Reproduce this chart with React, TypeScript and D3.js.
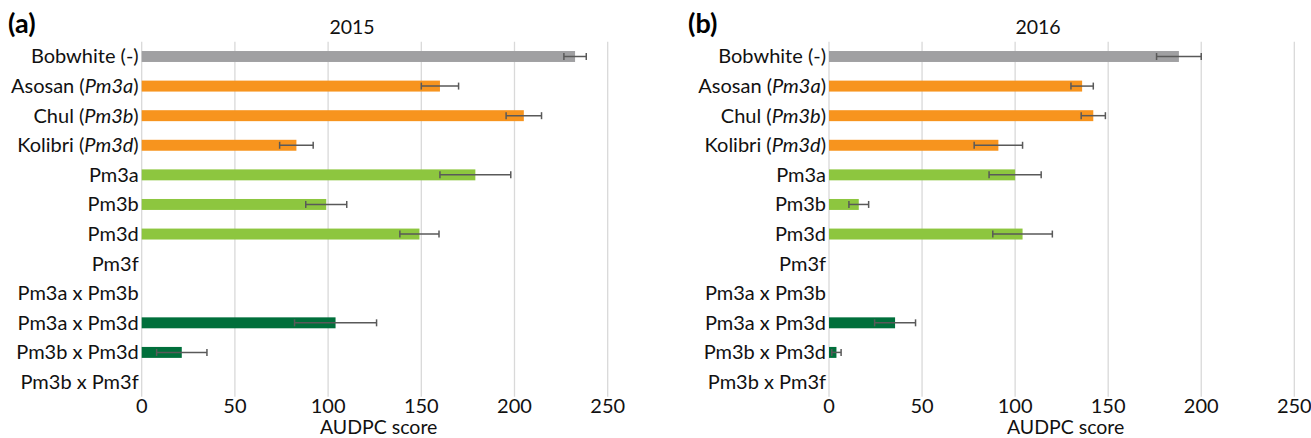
import * as d3 from 'd3';

const CATEGORIES = [
  'Bobwhite (-)', 'Asosan (Pm3a)', 'Chul (Pm3b)', 'Kolibri (Pm3d)', 'Pm3a', 'Pm3b', 'Pm3d',
  'Pm3f', 'Pm3a x Pm3b', 'Pm3a x Pm3d', 'Pm3b x Pm3d', 'Pm3b x Pm3f',
];
// group index per category: 0 = control, 1 = cultivar, 2 = single transgene, 3 = stacked
const GROUPS = [0, 1, 1, 1, 2, 2, 2, 2, 3, 3, 3, 3];
const GROUP_COLORS = ['#a0a0a2', '#f7941e', '#8dc63f', '#006f3b'];

const VALUES_2015 = [232.5, 160, 205, 83, 179, 99, 149, 0, 0, 104, 21.5, 0];
const ERRORS_2015 = [6, 10, 9.5, 9, 19, 11, 10.5, 0, 0, 22, 13.5, 0];
const VALUES_2016 = [188, 136, 142, 91, 100, 16, 104, 0, 0, 35.5, 4, 0];
const ERRORS_2016 = [12, 6, 6.5, 13, 14, 5.3, 16, 0, 0, 11, 2.5, 0];

const X_TICKS = [0, 50, 100, 150, 200, 250];
const FONT = 'Lato, sans-serif';

type PanelProps = {
  tag: string;
  title: string;
  values: number[];
  errors: number[];
  x0: number;
  x250: number;
  titleX: number;
  tagX: number;
};

// split "Asosan (Pm3a)" into a plain part and an italic gene name
const renderLabel = (label: string) => {
  const m = label.match(/^(.*\()(Pm3\w)(\))$/);
  if (!m) return label;
  return (
    <>
      <tspan>{m[1]}</tspan>
      <tspan fontStyle="italic">{m[2]}</tspan>
      <tspan>{m[3]}</tspan>
    </>
  );
};

const Panel = ({ tag, title, values, errors, x0, x250, titleX, tagX }: PanelProps) => {
  const xScale = d3.scaleLinear().domain([0, 250]).range([x0, x250]);
  const yScale = d3
    .scaleBand<string>()
    .domain(CATEGORIES)
    .range([41.7, 396.8])
    .paddingInner(0.63)
    .paddingOuter(0.315);

  const bw = yScale.bandwidth();
  const top = 41.7;
  const bottom = 396.8;

  return (
    <g>
      <text x={tagX} y={33} fontSize={27} fontWeight="bold" fontFamily={FONT}>
        {tag}
      </text>
      <text x={titleX} y={34} fontSize={19.5} textAnchor="middle" fontFamily={FONT} fill="#111">
        {title}
      </text>

      {X_TICKS.map((t) => (
        <g key={t}>
          <line x1={xScale(t)} x2={xScale(t)} y1={top} y2={bottom} stroke="#d9d9d9" strokeWidth={1.3} />
          <text x={xScale(t)} y={412.5} fontSize={20} textAnchor="middle" fontFamily={FONT} fill="#111">
            {t}
          </text>
        </g>
      ))}

      {CATEGORIES.map((c, i) => {
        const y = yScale(c) ?? 0;
        const cy = y + bw / 2;
        const v = values[i];
        const e = errors[i];
        return (
          <g key={c}>
            <text
              x={x0 - 3}
              y={cy + 7}
              fontSize={20}
              textAnchor="end"
              fontFamily={FONT}
              fill="#111"
            >
              {renderLabel(c)}
            </text>
            {v > 0 && (
              <rect
                x={xScale(0)}
                y={y}
                width={xScale(v) - xScale(0)}
                height={bw}
                fill={GROUP_COLORS[GROUPS[i]]}
              />
            )}
            {e > 0 && (
              <g stroke="#595959" strokeWidth={1.5}>
                <line x1={xScale(v - e)} x2={xScale(v + e)} y1={cy} y2={cy} />
                <line x1={xScale(v - e)} x2={xScale(v - e)} y1={cy - 3.5} y2={cy + 3.5} />
                <line x1={xScale(v + e)} x2={xScale(v + e)} y1={cy - 3.5} y2={cy + 3.5} />
              </g>
            )}
          </g>
        );
      })}

      <text
        x={(xScale(0) + xScale(250)) / 2 + 4}
        y={434}
        fontSize={19.5}
        textAnchor="middle"
        fontFamily={FONT}
        fill="#111"
      >
        AUDPC score
      </text>
    </g>
  );
};

export default function App() {
  return (
    <svg
      width={1311}
      height={438}
      style={{ position: 'absolute', left: 0, top: 0, background: '#fff' }}
    >
      <Panel
        tag="(a)"
        title="2015"
        values={VALUES_2015}
        errors={ERRORS_2015}
        x0={141.7}
        x250={607.7}
        titleX={352}
        tagX={8}
      />
      <Panel
        tag="(b)"
        title="2016"
        values={VALUES_2016}
        errors={ERRORS_2016}
        x0={829}
        x250={1294.3}
        titleX={1038}
        tagX={688}
      />
    </svg>
  );
}
